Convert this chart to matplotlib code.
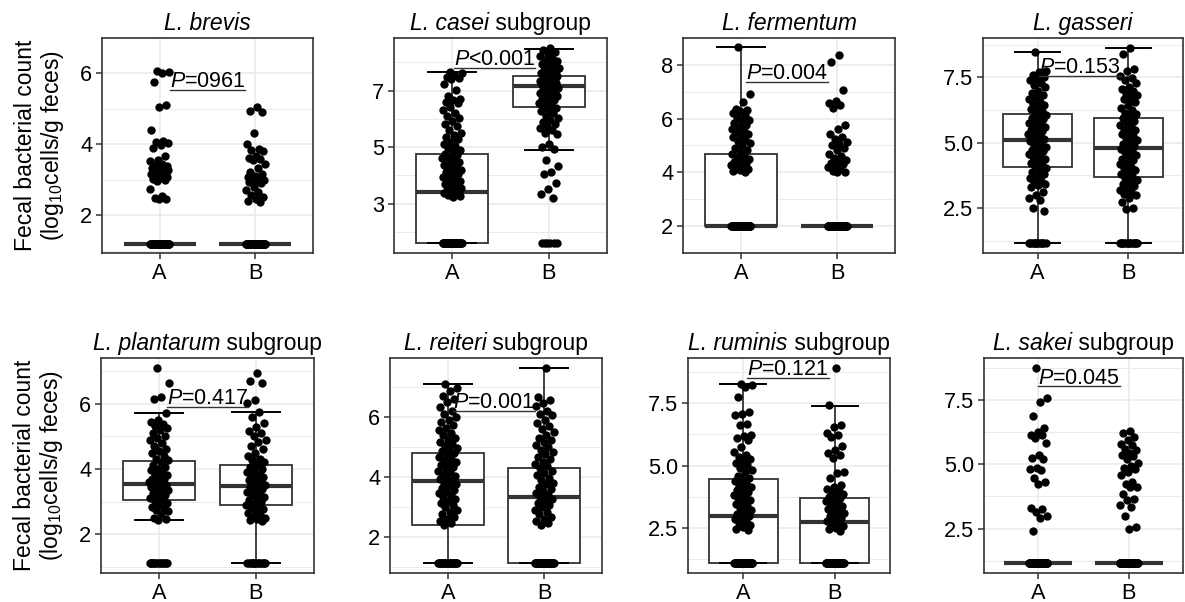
import numpy as np
import matplotlib
matplotlib.use("Agg")
import matplotlib.pyplot as plt
from matplotlib.lines import Line2D

plt.rcParams['font.family'] = ['Liberation Sans', 'DejaVu Sans']
plt.rcParams['mathtext.fontset'] = 'custom'
plt.rcParams['mathtext.rm'] = 'Liberation Sans'
plt.rcParams['mathtext.it'] = 'Liberation Sans:italic'

groups = ['A', 'B']

# title: italic species part, plain suffix
title_species = ['L. brevis', 'L. casei', 'L. fermentum', 'L. gasseri',
                 'L. plantarum', 'L. reiteri', 'L. ruminis', 'L. sakei']
title_suffix = ['', ' subgroup', '', '', ' subgroup', ' subgroup', ' subgroup', ' subgroup']

p_labels = ['=0961', '<0.001', '=0.004', '=0.153', '=0.417', '=0.001', '=0.121', '=0.045']
p_xpos = [1.5, 1.44, 1.48, 1.47, 1.5, 1.48, 1.49, 1.45]
p_ypos = [5.53, 7.81, 7.38, 7.55, 5.9, 6.19, 8.5, 8.02]

yticks = [[2, 4, 6], [3, 5, 7], [2, 4, 6, 8], [2.5, 5.0, 7.5],
          [2, 4, 6], [2, 4, 6], [2.5, 5.0, 7.5], [2.5, 5.0, 7.5]]
yticklabels = [['2', '4', '6'], ['3', '5', '7'], ['2', '4', '6', '8'], ['2.5', '5.0', '7.5'],
               ['2', '4', '6'], ['2', '4', '6'], ['2.5', '5.0', '7.5'], ['2.5', '5.0', '7.5']]

# box statistics: (lower whisker, q1, median, q3, upper whisker)
brevis_box_a = (1.18, 1.18, 1.18, 1.18, 1.18)
brevis_box_b = (1.18, 1.18, 1.18, 1.18, 1.18)
casei_box_a = (1.6, 1.6, 3.4, 4.77, 7.67)
casei_box_b = (4.9, 6.42, 7.15, 7.53, 8.48)
fermentum_box_a = (2.0, 2.0, 2.0, 4.7, 8.66)
fermentum_box_b = (2.0, 2.0, 2.0, 2.0, 2.0)
gasseri_box_a = (1.16, 4.09, 5.1, 6.11, 8.45)
gasseri_box_b = (1.16, 3.69, 4.81, 5.95, 8.63)
plantarum_box_a = (2.42, 3.05, 3.55, 4.24, 5.7)
plantarum_box_b = (1.11, 2.9, 3.49, 4.12, 5.75)
reiteri_box_a = (1.11, 2.4, 3.85, 4.8, 7.1)
reiteri_box_b = (1.11, 1.11, 3.32, 4.3, 7.63)
ruminis_box_a = (1.1, 1.1, 2.97, 4.47, 8.27)
ruminis_box_b = (1.1, 1.1, 2.76, 3.69, 7.39)
sakei_box_a = (1.16, 1.16, 1.16, 1.16, 1.16)
sakei_box_b = (1.16, 1.16, 1.16, 1.16, 1.16)

# individual samples (values at the detection limit repeated)
brevis_a = [6.07, 6.03, 6.0, 5.76, 5.1, 5.06, 4.4, 4.1, 4.07, 4.04, 3.97, 3.9, 3.68, 3.56,
            3.52, 3.46, 3.43, 3.39, 3.36, 3.33, 3.31, 3.28, 3.27, 3.24, 3.22, 3.2, 3.17, 3.15,
            3.13, 3.1, 3.08, 3.06, 3.03, 3.0, 2.97, 2.74, 2.54, 2.49, 2.46, 2.45] + [1.18] * 60
brevis_b = [5.06, 4.94, 4.9, 4.32, 4.0, 3.88, 3.84, 3.8, 3.66, 3.61, 3.58, 3.55, 3.46, 3.32,
            3.22, 3.16, 3.1, 3.07, 3.05, 3.02, 3.0, 2.97, 2.94, 2.9, 2.8, 2.72, 2.66, 2.58,
            2.52, 2.46, 2.41, 2.38] + [1.18] * 55
casei_a = [7.65, 7.61, 7.56, 7.5, 7.46, 7.4, 7.22, 7.02, 6.8, 6.72, 6.66, 6.61, 6.55, 6.42,
           6.3, 6.21, 6.1, 6.02, 5.92, 5.83, 5.74, 5.62, 5.51, 5.44, 5.36, 5.28, 5.2, 5.12,
           5.04, 4.96, 4.9, 4.82, 4.75, 4.71, 4.66, 4.6, 4.56, 4.51, 4.46, 4.42, 4.37, 4.31,
           4.26, 4.2, 4.16, 4.11, 4.06, 4.01, 3.96, 3.9, 3.86, 3.8, 3.76, 3.71, 3.66, 3.62,
           3.57, 3.52, 3.48, 3.44, 3.41, 3.37, 3.33, 3.3, 3.27, 3.25] + [1.6] * 45
casei_b = [8.52, 8.45, 8.36, 8.31, 8.22, 8.16, 8.1, 8.04, 8.0, 7.96, 7.9, 7.87, 7.81, 7.78,
           7.73, 7.7, 7.66, 7.61, 7.58, 7.55, 7.51, 7.48, 7.46, 7.42, 7.38, 7.35, 7.31, 7.28,
           7.26, 7.22, 7.19, 7.16, 7.12, 7.1, 7.06, 7.03, 7.0, 6.95, 6.92, 6.87, 6.84, 6.8,
           6.74, 6.7, 6.66, 6.6, 6.56, 6.5, 6.44, 6.4, 6.33, 6.27, 6.2, 6.11, 6.05, 5.97,
           5.9, 5.83, 5.74, 5.68, 5.61, 5.52, 5.46, 5.12, 5.02, 4.92, 4.55, 4.34, 4.12, 4.06,
           3.72, 3.52, 3.36, 3.2] + [1.6] * 6
fermentum_a = [8.66, 6.9, 6.62, 6.36, 6.31, 6.27, 6.2, 6.12, 6.02, 5.96, 5.9, 5.82, 5.76,
               5.7, 5.62, 5.55, 5.5, 5.44, 5.38, 5.3, 5.22, 5.16, 5.1, 5.02, 4.92, 4.84,
               4.76, 4.7, 4.62, 4.56, 4.5, 4.46, 4.4, 4.35, 4.3, 4.26, 4.2, 4.16, 4.12, 4.08,
               4.05, 4.02] + [2.0] * 55
fermentum_b = [8.36, 8.12, 7.06, 6.66, 6.58, 6.5, 6.38, 5.76, 5.6, 5.42, 5.32, 5.24, 5.12,
               5.06, 5.0, 4.92, 4.84, 4.7, 4.62, 4.52, 4.46, 4.42, 4.36, 4.32, 4.26, 4.2,
               4.12, 4.06, 4.02, 4.0] + [2.0] * 60
gasseri_a = [8.45, 7.76, 7.69, 7.6, 7.53, 7.44, 7.39, 7.3, 7.21, 7.12, 6.97, 6.9, 6.83, 6.74,
             6.67, 6.57, 6.5, 6.44, 6.35, 6.3, 6.21, 6.16, 6.07, 6.03, 5.94, 5.9, 5.85, 5.77,
             5.73, 5.65, 5.6, 5.56, 5.49, 5.45, 5.37, 5.33, 5.26, 5.21, 5.14, 5.1, 5.06, 4.97,
             4.93, 4.85, 4.81, 4.73, 4.69, 4.61, 4.56, 4.49, 4.45, 4.37, 4.31, 4.23, 4.19,
             4.11, 4.03, 3.97, 3.87, 3.81, 3.71, 3.65, 3.55, 3.51, 3.41, 3.37, 3.31, 3.12,
             3.02, 2.9, 2.8, 2.5, 2.4] + [1.16] * 12
gasseri_b = [8.63, 8.4, 7.82, 7.74, 7.56, 7.47, 7.41, 7.29, 7.13, 7.04, 6.96, 6.87, 6.81,
             6.71, 6.66, 6.54, 6.46, 6.34, 6.26, 6.15, 6.09, 5.99, 5.93, 5.84, 5.79, 5.69,
             5.63, 5.54, 5.49, 5.39, 5.33, 5.24, 5.19, 5.09, 5.03, 4.94, 4.89, 4.81, 4.77,
             4.69, 4.63, 4.54, 4.49, 4.39, 4.33, 4.24, 4.19, 4.09, 4.03, 3.94, 3.89, 3.79,
             3.73, 3.64, 3.59, 3.49, 3.43, 3.34, 3.29, 3.19, 3.13, 3.04, 2.99, 2.89, 2.72,
             2.5, 2.45] + [1.16] * 14
plantarum_a = [7.1, 6.62, 6.2, 6.15, 5.7, 5.5, 5.44, 5.38, 5.31, 5.24, 5.2, 5.1, 5.01, 4.95,
               4.9, 4.79, 4.7, 4.61, 4.55, 4.5, 4.41, 4.3, 4.26, 4.2, 4.11, 4.05, 4.0, 3.96,
               3.9, 3.84, 3.8, 3.76, 3.7, 3.68, 3.64, 3.61, 3.58, 3.55, 3.52, 3.5, 3.46, 3.4,
               3.38, 3.34, 3.3, 3.26, 3.2, 3.14, 3.1, 3.06, 3.01, 2.95, 2.9, 2.84, 2.8, 2.74,
               2.7, 2.61, 2.5, 2.46, 2.42] + [1.11] * 14
plantarum_b = [6.95, 6.7, 6.62, 6.1, 6.02, 5.75, 5.6, 5.41, 5.3, 5.16, 5.1, 5.02, 4.9, 4.81,
               4.7, 4.61, 4.5, 4.4, 4.31, 4.26, 4.2, 4.12, 4.06, 4.0, 3.95, 3.9, 3.84, 3.8,
               3.74, 3.7, 3.65, 3.6, 3.56, 3.52, 3.49, 3.45, 3.4, 3.35, 3.3, 3.24, 3.2, 3.15,
               3.1, 3.04, 3.0, 2.94, 2.9, 2.85, 2.8, 2.76, 2.7, 2.64, 2.6, 2.54, 2.5, 2.46,
               2.43, 2.4] + [1.11] * 14
reiteri_a = [7.1, 6.95, 6.86, 6.7, 6.6, 6.5, 6.31, 6.2, 6.1, 6.0, 5.9, 5.82, 5.71, 5.62,
             5.54, 5.46, 5.39, 5.3, 5.22, 5.15, 5.1, 5.02, 4.96, 4.9, 4.84, 4.78, 4.72, 4.66,
             4.6, 4.55, 4.5, 4.44, 4.38, 4.32, 4.26, 4.2, 4.14, 4.09, 4.03, 3.98, 3.92, 3.86,
             3.8, 3.74, 3.68, 3.62, 3.56, 3.5, 3.44, 3.38, 3.32, 3.26, 3.2, 3.12, 3.05, 2.97,
             2.9, 2.82, 2.74, 2.66, 2.58, 2.52, 2.46, 2.4] + [1.11] * 22
reiteri_b = [7.63, 6.65, 6.55, 6.45, 6.36, 6.2, 6.1, 6.05, 5.9, 5.8, 5.7, 5.6, 5.5, 5.4,
             5.3, 5.22, 5.14, 5.06, 4.98, 4.9, 4.82, 4.74, 4.66, 4.58, 4.5, 4.42, 4.34, 4.28,
             4.2, 4.12, 4.04, 3.96, 3.88, 3.8, 3.74, 3.66, 3.6, 3.52, 3.46, 3.38, 3.32, 3.26,
             3.2, 3.12, 3.06, 2.98, 2.9, 2.82, 2.74, 2.66, 2.6, 2.52, 2.46, 2.4] + [1.11] * 35
ruminis_a = [8.27, 8.2, 8.12, 7.72, 7.12, 7.06, 7.0, 6.66, 6.6, 6.22, 6.16, 6.1, 6.02, 5.72,
             5.52, 5.42, 5.34, 5.26, 5.18, 5.1, 5.02, 4.92, 4.84, 4.74, 4.6, 4.52, 4.46, 4.4,
             4.32, 4.24, 4.16, 4.08, 4.02, 3.96, 3.9, 3.84, 3.78, 3.72, 3.64, 3.56, 3.48, 3.4,
             3.32, 3.24, 3.16, 3.08, 3.0, 2.94, 2.86, 2.78, 2.7, 2.62, 2.55, 2.48,
             2.42] + [1.1] * 40
ruminis_b = [8.9, 7.4, 6.62, 6.52, 6.3, 6.2, 6.14, 5.76, 5.62, 5.5, 5.42, 5.3, 4.76, 4.7, 4.5,
             4.22, 4.14, 4.06, 4.0, 3.94, 3.88, 3.82, 3.76, 3.7, 3.64, 3.58, 3.52, 3.46, 3.4,
             3.34, 3.28, 3.22, 3.16, 3.1, 3.04, 2.98, 2.92, 2.86, 2.8, 2.74, 2.68, 2.6, 2.52,
             2.46, 2.4] + [1.1] * 45
sakei_a = [8.74, 7.55, 7.43, 6.87, 6.42, 6.25, 6.15, 6.12, 6.0, 5.82, 5.35, 5.26, 5.2, 4.86,
           4.8, 4.78, 4.45, 4.3, 4.25, 3.3, 3.25, 3.16, 3.0, 2.9, 2.42] + [1.16] * 70
sakei_b = [6.3, 6.2, 6.05, 5.95, 5.8, 5.75, 5.6, 5.55, 5.45, 5.35, 5.3, 5.2, 5.05, 4.95, 4.85,
           4.8, 4.7, 4.6, 4.3, 4.25, 4.12, 4.1, 3.85, 3.65, 3.6, 3.4, 3.35, 3.0, 2.55,
           2.5] + [1.16] * 80

values = [(brevis_a, brevis_b), (casei_a, casei_b), (fermentum_a, fermentum_b),
          (gasseri_a, gasseri_b), (plantarum_a, plantarum_b), (reiteri_a, reiteri_b),
          (ruminis_a, ruminis_b), (sakei_a, sakei_b)]
boxes = [(brevis_box_a, brevis_box_b), (casei_box_a, casei_box_b),
         (fermentum_box_a, fermentum_box_b), (gasseri_box_a, gasseri_box_b),
         (plantarum_box_a, plantarum_box_b), (reiteri_box_a, reiteri_box_b),
         (ruminis_box_a, ruminis_box_b), (sakei_box_a, sakei_box_b)]

# panel frames in pixels: left, right, top, bottom
W, H = 1185, 602
frames = [(102, 313, 38, 253), (394, 607, 38, 253), (683, 895, 38, 253), (983, 1183, 38, 253),
          (101, 314, 358, 573), (390, 602, 358, 573), (688, 890, 358, 573), (984, 1183, 358, 573)]

fig = plt.figure(figsize=(W / 100, H / 100), dpi=100)
dark = '#333333'
grid_c = '#EBEBEB'
p_texts = []
title_parts = []

for k in range(8):
    l, r, t, b = frames[k]
    ax = fig.add_axes([l / W, 1 - b / H, (r - l) / W, (b - t) / H])
    ax.set_axisbelow(True)

    stats = []
    for bx in boxes[k]:
        stats.append(dict(whislo=bx[0], q1=bx[1], med=bx[2], q3=bx[3], whishi=bx[4], fliers=[]))
    ax.bxp(stats, positions=[1, 2], widths=0.75, capwidths=0.5, patch_artist=True,
           showfliers=False,
           boxprops=dict(facecolor='white', edgecolor=dark, linewidth=1.3),
           medianprops=dict(color=dark, linewidth=3.0, solid_capstyle='butt'),
           whiskerprops=dict(color=dark, linewidth=1.3),
           capprops=dict(color='black', linewidth=1.4))

    for i, vals in enumerate(values[k]):
        n = len(vals)
        jit = 0.1 * (2 * ((np.arange(n) * 0.6180339 + 0.37 + 0.21 * i) % 1) - 1)
        ax.plot(i + 1 + jit, vals, 'o', color='black', ms=6.0, mec='none', zorder=3)

    ax.set_xlim(0.4, 2.6)
    ax.set_xticks([1, 2])
    ax.set_xticklabels(groups)
    tk = yticks[k]
    step = tk[1] - tk[0]
    ax.set_yticks(tk)
    ax.set_yticklabels(yticklabels[k])
    ax.set_yticks([tk[0] - step / 2] + [v + step / 2 for v in tk], minor=True)
    ax.set_ylim(ax.get_ylim())

    ax.grid(which='major', color=grid_c, linewidth=1.2)
    ax.grid(which='minor', axis='y', color=grid_c, linewidth=0.7)
    ax.tick_params(which='major', length=4, width=1.1, color=dark, labelsize=15.7,
                   labelcolor='black')
    ax.tick_params(axis='y', pad=3)
    ax.tick_params(axis='x', pad=3)
    ax.tick_params(which='minor', length=0)
    for s in ax.spines.values():
        s.set_color(dark)
        s.set_linewidth(1.2)

    # two-part title (italic species name + plain suffix), centred later
    t1 = ax.annotate(title_species[k], xy=(0.5, 1.0), xycoords='axes fraction',
                     xytext=(0, 6), textcoords='offset points', ha='left', va='baseline',
                     fontsize=16.5, fontstyle='italic')
    t2 = ax.annotate(title_suffix[k], xy=(0.5, 1.0), xycoords='axes fraction',
                     xytext=(0, 6), textcoords='offset points', ha='left', va='baseline',
                     fontsize=16.5)
    title_parts.append((t1, t2))

    if k in (0, 4):
        ax.set_ylabel('Fecal bacterial count\n(log$_{10}$cells/g feces)', fontsize=16.5,
                      linespacing=1.1, labelpad=10)

    txt = ax.annotate(r'$\mathit{P}$' + p_labels[k], xy=(p_xpos[k], p_ypos[k]),
                      xytext=(0, 2), textcoords='offset points',
                      ha='center', va='baseline', fontsize=15.5, color='black')
    p_texts.append((ax, txt, p_ypos[k]))

fig.canvas.draw()
renderer = fig.canvas.get_renderer()
px2pt = 72 / fig.dpi

# centre the two-part titles
for t1, t2 in title_parts:
    w1 = t1.get_window_extent(renderer).width
    w2 = t2.get_window_extent(renderer).width if t2.get_text() else 0
    start = -(w1 + w2) / 2
    t1.xyann = (start * px2pt, 6)
    t2.xyann = ((start + w1) * px2pt, 6)

# underline each P value
inv = fig.transFigure.inverted()
for ax, txt, yv in p_texts:
    bb = txt.get_window_extent(renderer)
    y_disp = ax.transData.transform((0, yv))[1]
    (x0, y0) = inv.transform((bb.x0, y_disp))
    (x1, _) = inv.transform((bb.x1, y_disp))
    fig.add_artist(Line2D([x0, x1], [y0, y0], transform=fig.transFigure,
                          color=dark, linewidth=1.0))

fig.savefig('out.png', dpi=100)
